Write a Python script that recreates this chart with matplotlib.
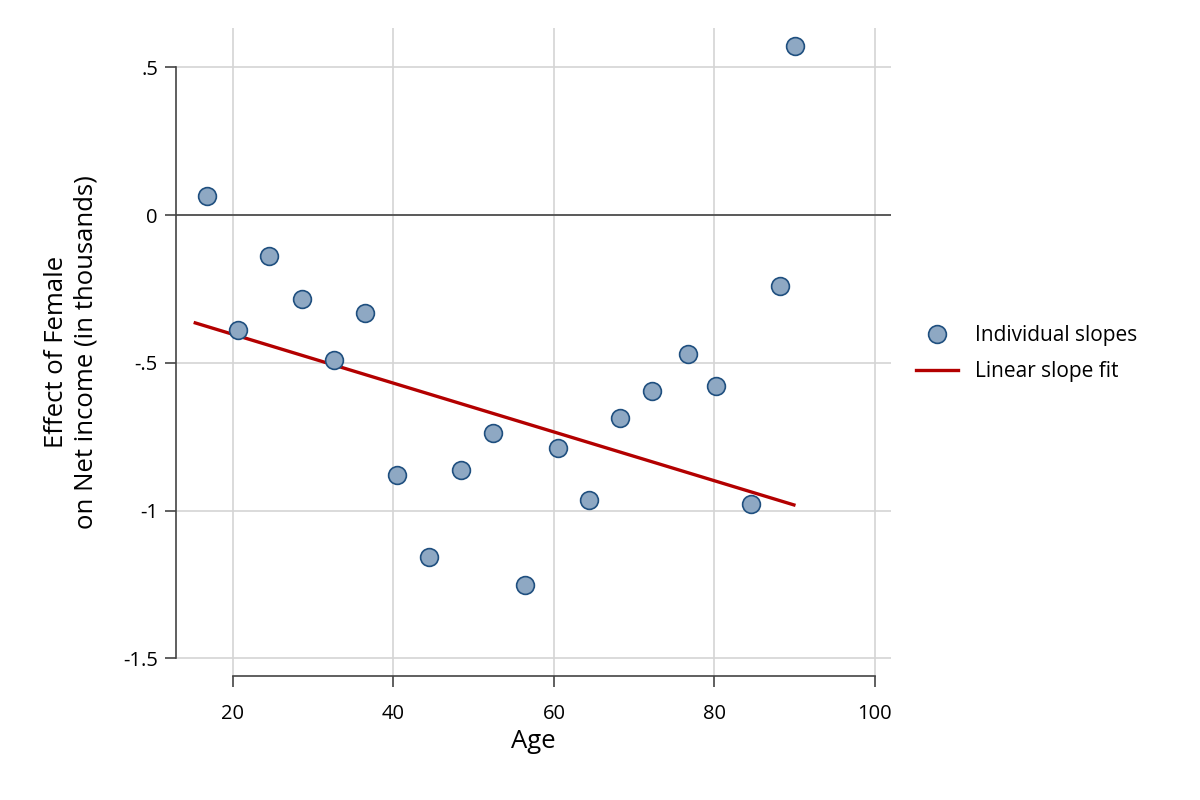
import numpy as np
import matplotlib.pyplot as plt

# individual slopes
age = [16.8, 20.6, 24.5, 28.6, 32.6, 36.4, 40.4, 44.4, 48.4, 52.4,
       56.4, 60.5, 64.4, 68.2, 72.2, 76.7, 80.2, 84.5, 88.2, 90.0]
slope = [0.064, -0.389, -0.139, -0.284, -0.491, -0.332, -0.880, -1.157, -0.863, -0.738,
         -1.252, -0.788, -0.964, -0.687, -0.596, -0.470, -0.579, -0.978, -0.240, 0.572]

# linear fit end points
fit_x = [15.3, 89.9]
fit_y = [-0.365, -0.981]

xticks = [20, 40, 60, 80, 100]
yticks = [0.5, 0, -0.5, -1, -1.5]
ytick_labels = [".5", "0", "-.5", "-1", "-1.5"]

plt.rcParams['font.family'] = ['Open Sans', 'DejaVu Sans']

fig = plt.figure(figsize=(12, 8), dpi=100)
ax = fig.add_axes([176/1200, 1-676/800, (891-176)/1200, (676-28)/800])
ax.set_axisbelow(True)

ax.set_xlim(12.9, 102.0)
ax.set_ylim(-1.56, 0.633)

ax.grid(True, color='#d4d4d4', linewidth=1.2)
ax.axhline(0, color='#444444', linewidth=1.2, zorder=1.8)

ax.plot(fit_x, fit_y, color='#b30000', linewidth=2.4, zorder=2, label='Linear slope fit')
ax.plot(age, slope, linestyle='none', marker='o', markersize=12.8,
        markerfacecolor='#8ea8c3', markeredgecolor='#1f4f7f', markeredgewidth=1.2,
        zorder=3, label='Individual slopes')

for s in ['top', 'right']:
    ax.spines[s].set_visible(False)
ax.spines['left'].set_bounds(-1.5, 0.5)
ax.spines['bottom'].set_bounds(20, 100)
for s in ['left', 'bottom']:
    ax.spines[s].set_color('#444444')
    ax.spines[s].set_linewidth(1.2)

ax.set_xticks(xticks)
ax.set_yticks(yticks)
ax.set_yticklabels(ytick_labels)
ax.tick_params(axis='both', labelsize=14.5, color='#444444', width=1.2, length=8)
ax.tick_params(axis='x', pad=12)
ax.tick_params(axis='y', pad=5)

ax.set_xlabel('Age', fontsize=18.5, labelpad=4)
ax.set_ylabel('Effect of Female\non Net income (in thousands)', fontsize=18.5, labelpad=18)

handles, labels = ax.get_legend_handles_labels()
fig.legend(handles[::-1], labels[::-1], loc='center left', bbox_to_anchor=(0.748, 0.558),
           frameon=False, fontsize=15, handlelength=2.0, labelspacing=0.72, handletextpad=0.8)

fig.savefig('out.png', dpi=100)
